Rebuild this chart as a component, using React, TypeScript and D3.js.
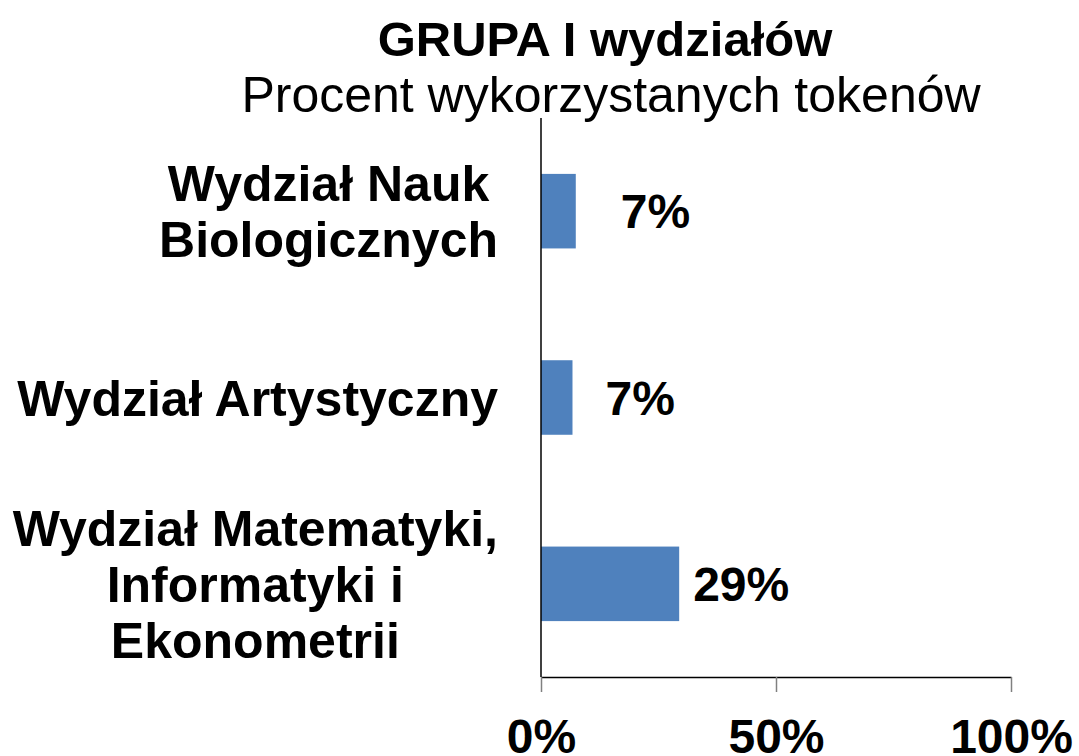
import React, { useRef, useEffect } from "react";
import * as d3 from "d3";

const title = "GRUPA I wydziałów";
const subtitle = "Procent wykorzystanych tokenów";
const categories = [
  "Wydział Nauk\nBiologicznych",
  "Wydział Artystyczny",
  "Wydział Matematyki,\nInformatyki i\nEkonometrii",
];
const values = [7.4, 6.7, 29.4];
const valueLabels = ["7%", "7%", "29%"];
const xTicks = [0, 50, 100];

const width = 1079;
const height = 756;
const font = "'Liberation Sans', Arial, sans-serif";

const App = () => {
  const svgRef = useRef<SVGSVGElement>(null);

  useEffect(() => {
    const svg = d3.select(svgRef.current);
    svg.selectAll("*").remove();

    const left = 541;
    const right = 1011;
    const top = 118;
    const bottom = 677;

    const x = d3.scaleLinear().domain([0, 100]).range([left, right]);
    const y = d3
      .scaleBand<string>()
      .domain(categories)
      .range([top, bottom])
      .paddingInner(0.6)
      .paddingOuter(0.3);

    // titles
    svg
      .append("text")
      .attr("x", 605)
      .attr("y", 56)
      .attr("text-anchor", "middle")
      .attr("font-family", font)
      .attr("font-weight", "bold")
      .attr("font-size", 49)
      .text(title);
    svg
      .append("text")
      .attr("x", 611)
      .attr("y", 112)
      .attr("text-anchor", "middle")
      .attr("font-family", font)
      .attr("font-size", 50)
      .text(subtitle);

    // bars
    svg
      .selectAll(".bar")
      .data(values)
      .join("rect")
      .attr("class", "bar")
      .attr("x", x(0))
      .attr("y", (_, i) => y(categories[i])!)
      .attr("width", (d) => x(d) - x(0))
      .attr("height", y.bandwidth())
      .attr("fill", "#4F81BD");

    // value labels (Excel-style, slightly moved by hand)
    const labelDx = [45, 33, 14];
    svg
      .selectAll(".val")
      .data(values)
      .join("text")
      .attr("class", "val")
      .attr("x", (d, i) => x(d) + labelDx[i])
      .attr("y", (_, i) => y(categories[i])! + y.bandwidth() / 2)
      .attr("dy", "0.36em")
      .attr("font-family", font)
      .attr("font-weight", "bold")
      .attr("font-size", 48)
      .text((_, i) => valueLabels[i]);

    // category labels: lines centred within a right-aligned block
    const labelRight = 498;
    const lh = 56;
    categories.forEach((c) => {
      const lines = c.split("\n");
      const cy = y(c)! + y.bandwidth() / 2;
      const g = svg.append("g");
      const t = g
        .selectAll("text")
        .data(lines)
        .join("text")
        .attr("y", (_, i) => cy + (i - (lines.length - 1) / 2) * lh)
        .attr("dy", "0.36em")
        .attr("text-anchor", "middle")
        .attr("font-family", font)
        .attr("font-weight", "bold")
        .attr("font-size", 50)
        .text((d) => d);
      let maxW = 0;
      t.each(function () {
        maxW = Math.max(maxW, (this as SVGTextElement).getComputedTextLength());
      });
      t.attr("x", labelRight - maxW / 2);
    });

    // y axis line
    svg
      .append("line")
      .attr("x1", left)
      .attr("x2", left)
      .attr("y1", top)
      .attr("y2", bottom)
      .attr("stroke", "#000")
      .attr("stroke-width", 1.5);

    // x axis
    const xAxis = d3
      .axisBottom(x)
      .tickValues(xTicks)
      .tickSize(15)
      .tickSizeOuter(0)
      .tickPadding(27)
      .tickFormat((d) => `${d}%`);
    const ax = svg.append("g").attr("transform", `translate(0,${bottom})`).call(xAxis);
    ax.select(".domain").attr("stroke", "#000").attr("stroke-width", 1.5);
    ax.selectAll(".tick line").attr("stroke", "#808080").attr("stroke-width", 1.5);
    ax.selectAll(".tick text")
      .attr("fill", "#000")
      .attr("font-family", font)
      .attr("font-weight", "bold")
      .attr("font-size", 48);
  }, []);

  return (
    <svg
      ref={svgRef}
      width={width}
      height={height}
      style={{ position: "absolute", left: 0, top: 0, background: "#fff" }}
    />
  );
};

export default App;
